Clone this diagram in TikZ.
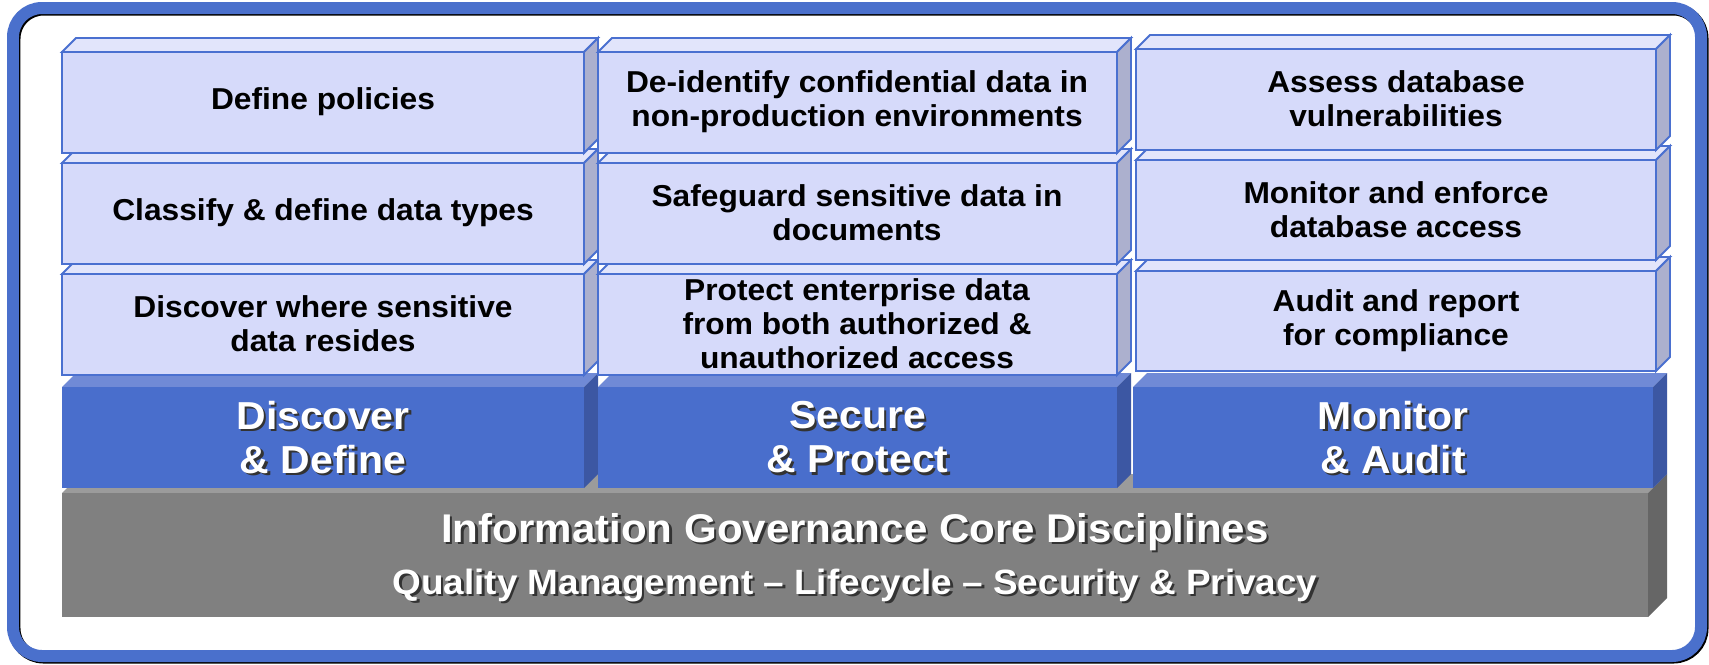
\documentclass[tikz,border=0pt]{standalone}
\usepackage{fontspec}
\setmainfont[FakeStretch=1.05]{Liberation Sans}
\usepackage{tikz}

\definecolor{frameblue}{RGB}{74,112,204}
\definecolor{boxline}{RGB}{74,112,208}
\definecolor{lightfront}{RGB}{214,218,250}
\definecolor{lighttop}{RGB}{226,229,251}
\definecolor{lightside}{RGB}{172,176,206}
\definecolor{bluefront}{RGB}{73,110,204}
\definecolor{bluetop}{RGB}{112,138,214}
\definecolor{blueside}{RGB}{60,87,163}
\definecolor{grayfront}{RGB}{128,128,128}
\definecolor{graytop}{RGB}{155,155,155}
\definecolor{grayside}{RGB}{102,102,102}

\tikzset{
  lt top/.style={fill=lighttop, draw=boxline, line width=1.1pt},
  lt side/.style={fill=lightside, draw=boxline, line width=1.1pt},
  lt front/.style={fill=lightfront, draw=boxline, line width=1.1pt},
  bl top/.style={fill=bluetop},
  bl side/.style={fill=blueside},
  bl front/.style={fill=bluefront},
  gr top/.style={fill=graytop},
  gr side/.style={fill=grayside},
  gr front/.style={fill=grayfront},
  boxtext/.style={align=center, inner sep=0pt, font=\fontsize{17.2}{19.3}\selectfont\bfseries},
  bartext/.style={align=center, inner sep=0pt, text=white, font=\fontsize{22.2}{25}\selectfont\bfseries},
  barshade/.style={bartext, text=black!80},
}

% block with front face (x1,y1)-(x2,y2), depth, kind
\newcommand{\blok}[6]{%
  \path[#6 top] (#1,#2) -- (#1+#5,#2-#5) -- (#3+#5,#2-#5) -- (#3,#2) -- cycle;
  \path[#6 side] (#3,#2) -- (#3+#5,#2-#5) -- (#3+#5,#4-#5) -- (#3,#4) -- cycle;
  \path[#6 front] (#1,#2) rectangle (#3,#4);
}

\begin{document}
\begin{tikzpicture}[x=0.02cm, y=-0.02cm]

\fill[white] (0,0) rectangle (1709,664);
\useasboundingbox (0,0) rectangle (1709,664);

% frame
\draw[black, line width=0.24cm, rounded corners=0.58cm] (14.5,9.5) rectangle (1702.5,657.5);
\draw[frameblue, line width=0.24cm, rounded corners=0.58cm] (13,8) rectangle (1701,656);

% core disciplines
\blok{62}{493}{1648}{617}{19}{gr}

% bars
\blok{62}{387}{584}{488}{14}{bl}
\blok{598}{387}{1117}{488}{14}{bl}
\blok{1133}{387}{1653}{488}{14}{bl}

% boxes, lowest row first
\blok{62}{274}{584}{375}{14}{lt}
\blok{598}{274}{1117}{375}{14}{lt}
\blok{1136}{271}{1656}{371}{14}{lt}
\blok{62}{163}{584}{264}{14}{lt}
\blok{598}{163}{1117}{264}{14}{lt}
\blok{1136}{160}{1656}{260}{14}{lt}
\blok{62}{52}{584}{153}{14}{lt}
\blok{598}{52}{1117}{153}{14}{lt}
\blok{1136}{49}{1656}{150}{14}{lt}

% box texts
\node(policies) [boxtext] at (323,102) {Define policies};
\node(classify) [boxtext] at (323,213) {Classify \& define data types};
\node(where) [boxtext] at (323,324) {Discover where sensitive\\data resides};
\node(deident) [boxtext] at (857,102) {De-identify confidential data in\\non-production environments};
\node(safeguard) [boxtext] at (857,213) {Safeguard sensitive data in\\documents};
\node(protect) [boxtext] at (857,324) {Protect enterprise data\\from both authorized \&\\unauthorized access};
\node(assess) [boxtext] at (1396,99) {Assess database\\vulnerabilities};
\node(enforce) [boxtext] at (1396,210) {Monitor and enforce\\database access};
\node(report) [boxtext] at (1396,321) {Audit and report\\for compliance};

% bar texts
\node(discover-s) [barshade] at (325.5,440) {Discover\\\& Define};
\node(discover) [bartext] at (323,437.5) {Discover\\\& Define};
\node(secure-s) [barshade] at (860,440) {Secure\\\& Protect};
\node(secure) [bartext] at (857.5,437.5) {Secure\\\& Protect};
\node(monitor-s) [barshade] at (1395.5,440) {Monitor\\\& Audit};
\node(monitor) [bartext] at (1393,437.5) {Monitor\\\& Audit};

% core texts
\node(core-s) [barshade, font=\fontsize{22.8}{25}\selectfont\bfseries] at (857.5,534.5) {Information Governance Core Disciplines};
\node(core) [bartext, font=\fontsize{22.8}{25}\selectfont\bfseries] at (855,532) {Information Governance Core Disciplines};
\node(pillars-s) [barshade, font=\fontsize{20}{22}\selectfont\bfseries] at (857.5,587.5) {Quality Management – Lifecycle – Security \& Privacy};
\node(pillars) [bartext, font=\fontsize{20}{22}\selectfont\bfseries] at (855,585) {Quality Management – Lifecycle – Security \& Privacy};

\end{tikzpicture}
\end{document}
